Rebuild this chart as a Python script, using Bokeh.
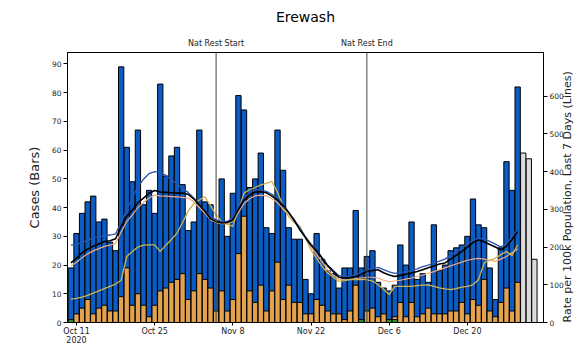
import math
from bokeh.plotting import figure
from bokeh.models import Range1d, LinearAxis, FixedTicker, Span
from bokeh.embed import file_html
from bokeh.resources import INLINE

# ---- data (day index 0 = Oct 10 2020) ----
chart_title = "Erewash"
tick_days = [1, 15, 29, 43, 57, 71]
tick_labels = ["Oct 11\n2020", "Oct 25", "Nov 8", "Nov 22", "Dec 6", "Dec 20"]
y_ticks = [0, 10, 20, 30, 40, 50, 60, 70, 80, 90]
rate_ticks = [0, 100, 200, 300, 400, 500, 600]
nat_rest_days = [26, 53]
nat_rest_labels = ["Nat Rest Start", "Nat Rest End"]

cases_all = [19, 31, 38, 42, 44, 35, 36, 28, 25, 89,
             61, 49, 67, 41, 46, 38, 83, 51, 58, 61,
             48, 32, 35, 67, 42, 41, 35, 50, 30, 45,
             79, 74, 47, 50, 59, 33, 31, 67, 53, 33,
             29, 29, 15, 10, 31, 22, 18, 17, 12, 19,
             19, 39, 19, 23, 25, 14, 12, 11, 13, 27,
             20, 35, 15, 17, 14, 34, 18, 20, 25, 26,
             27, 30, 43, 34, 33, 19, 8, 26, 56, 46,
             82]
cases_60 = [0, 3, 5, 8, 3, 5, 6, 4, 4, 9,
            19, 6, 10, 6, 2, 6, 11, 12, 14, 15,
            17, 8, 11, 17, 15, 12, 4, 11, 4, 8,
            24, 37, 11, 7, 13, 4, 11, 21, 8, 13,
            7, 7, 3, 3, 8, 6, 4, 3, 3, 1,
            4, 13, 1, 4, 5, 2, 3, 1, 2, 7,
            2, 7, 2, 3, 5, 3, 3, 3, 4, 4,
            7, 3, 8, 6, 15, 4, 2, 7, 12, 4,
            14]
green_days = [0, 52, 57, 58]
green_cases = [1, 1, 1, 1]
cases_incomplete = [59, 57, 22]

rate_black = [158, 170, 185, 195, 202, 208, 215, 217, 222, 255,
              282, 298, 318, 330, 343, 350, 346, 345, 344, 343,
              343, 340, 328, 312, 295, 275, 268, 264, 265, 272,
              300, 325, 338, 346, 347, 344, 335, 325, 310, 292,
              270, 246, 225, 205, 190, 170, 150, 135, 120, 118,
              119, 122, 128, 136, 138, 140, 132, 126, 122, 125,
              128, 131, 135, 140, 145, 150, 155, 158, 168, 178,
              188, 200, 212, 219, 214, 207, 200, 193, 202, 220,
              241]
rate_blue = [205, 208, 212, 218, 225, 228, 230, 232, 235, 265,
             300, 330, 360, 380, 395, 400, 398, 390, 378, 368,
             355, 345, 330, 314, 298, 280, 272, 268, 268, 278,
             305, 330, 345, 352, 352, 348, 340, 328, 312, 292,
             272, 250, 228, 208, 192, 172, 152, 138, 124, 122,
             123, 126, 133, 140, 143, 146, 140, 134, 130, 132,
             135, 138, 142, 148, 152, 158, 163, 168, 178, 188,
             198, 208, 218, 224, 222, 215, 208, 200, 210, 228,
             246]
rate_gold = [62, 64, 67, 72, 78, 84, 90, 96, 102, 112,
             175, 188, 200, 205, 206, 206, 188, 205, 220, 237,
             265, 295, 315, 325, 334, 310, 285, 268, 260, 255,
             300, 343, 352, 358, 365, 369, 374, 345, 310, 280,
             265, 255, 225, 192, 170, 148, 131, 120, 109, 111,
             114, 114, 114, 114, 110, 100, 88, 74, 96, 96,
             96, 96, 98, 99, 100, 96, 92, 89, 87, 90,
             94, 96, 100, 114, 158, 165, 170, 180, 188, 178,
             206]
rate_salmon = [150, 160, 172, 182, 190, 196, 202, 205, 210, 240,
               268, 285, 305, 318, 330, 338, 336, 335, 334, 333,
               332, 330, 320, 305, 290, 272, 265, 262, 262, 268,
               292, 315, 328, 336, 338, 336, 328, 318, 300, 285,
               275, 250, 225, 200, 180, 160, 140, 125, 115, 113,
               114, 116, 118, 120, 120, 118, 112, 108, 110, 112,
               115, 118, 122, 126, 130, 135, 140, 145, 150, 155,
               160, 165, 168, 170, 168, 165, 162, 168, 175, 185,
               195]

days = list(range(len(cases_all)))
inc_days = list(range(len(cases_all), len(cases_all) + len(cases_incomplete)))
x_lo, x_hi = -0.61, 84.63

FONT = "DejaVu Sans"

p = figure(width=583, height=348,
           x_range=Range1d(x_lo, x_hi), y_range=Range1d(0, 94.0),
           output_backend="svg", toolbar_location=None, title_location=None,
           min_border_left=67, min_border_right=39,
           min_border_top=52, min_border_bottom=25)
p.extra_y_ranges = {"rate": Range1d(0, 716)}

p.background_fill_color = "white"
p.border_fill_color = "white"
p.outline_line_color = "black"
p.outline_line_width = 1
p.xgrid.visible = False
p.ygrid.visible = False

xa = p.below[0]
ya = p.left[0]

# bars
p.vbar(x=days, top=cases_all, width=0.95, fill_color="#0b5cc4",
       line_color="black", line_width=1)
p.vbar(x=days, top=cases_60, width=0.95, fill_color="#e3a34e",
       line_color="black", line_width=1)
p.vbar(x=green_days, top=green_cases, width=0.95, fill_color="#2ca02c",
       line_color="black", line_width=1)
p.vbar(x=inc_days, top=cases_incomplete, width=0.95, fill_color="#dcdcdc",
       line_color="black", line_width=1)

# lines
p.line(days, rate_salmon, y_range_name="rate", line_color="#f2a77e", line_width=1.2)
p.line(days, rate_gold, y_range_name="rate", line_color="#cdb24e", line_width=1.3)
p.line(days, rate_blue, y_range_name="rate", line_color="#2a55b0", line_width=1.3)
p.line(days, rate_black, y_range_name="rate", line_color="black", line_width=1.6)


def label_axis(ticks, labels, size, standoff):
    a = LinearAxis(ticker=FixedTicker(ticks=ticks),
                   major_label_overrides={d: t for d, t in zip(ticks, labels)})
    a.axis_line_color = None
    a.major_tick_line_color = None
    a.minor_tick_line_color = None
    a.major_tick_in = 0
    a.major_tick_out = 0
    a.major_label_standoff = standoff
    a.major_label_text_font = FONT
    a.major_label_text_font_size = size
    return a


# lockdown markers
for d in nat_rest_days:
    p.add_layout(Span(location=d, dimension="height", line_color="#444444", line_width=1))
ta = label_axis(nat_rest_days, nat_rest_labels, "8px", 5)
ta.major_label_text_color = "#222222"
p.add_layout(ta, "above")

# title (as a label row above the frame)
title_x = (x_lo + x_hi) / 2
tt = label_axis([title_x], [chart_title], "14px", 11)
tt.major_label_text_color = "black"
p.add_layout(tt, "above")

# axes
xa.ticker = FixedTicker(ticks=tick_days)
xa.major_label_overrides = {d: l for d, l in zip(tick_days, tick_labels)}
ya.ticker = FixedTicker(ticks=y_ticks)
ya.axis_label = "Cases (Bars)"
ya.axis_label_standoff = 7

ra = LinearAxis(y_range_name="rate", ticker=FixedTicker(ticks=rate_ticks),
                axis_label="Rate per 100k Population, Last 7 Days (Lines)")
ra.axis_label_standoff = 1
props = ra.properties()
if "axis_label_orientation" in props:
    ra.axis_label_orientation = math.pi / 2
if "axis_label_align" in props:
    ra.axis_label_align = "start"
p.add_layout(ra, "right")

for ax in [xa, ya, ra]:
    ax.major_label_text_font = FONT
    ax.major_label_text_font_size = "7.5px"
    ax.major_label_text_color = "#222222"
    ax.major_tick_in = 0
    ax.major_tick_out = 4
    ax.minor_tick_line_color = None
    ax.axis_line_color = "black"
    ax.major_tick_line_color = "black"
    ax.major_label_standoff = 2
    ax.axis_label_text_font = FONT
    ax.axis_label_text_font_style = "normal"
    ax.axis_label_text_color = "#222222"
ya.axis_label_text_font_size = "13px"
ra.axis_label_text_font_size = "11px"
xa.major_label_text_font_size = "8px"
xa.major_tick_out = 3
xa.major_label_standoff = 1
xa.major_label_text_line_height = 1.1

open("out.html", "w").write(file_html(p, INLINE))
